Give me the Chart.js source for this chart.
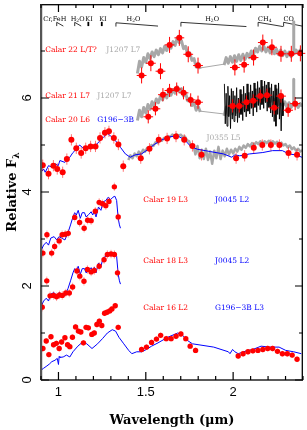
<!DOCTYPE html>
<html>
<head>
<meta charset="utf-8">
<script src="https://cdn.jsdelivr.net/npm/chart.js@4.4.1/dist/chart.umd.min.js"></script>
<style>
  html, body { margin: 0; padding: 0; background: #fff; }
</style>
</head>
<body>
<canvas id="chart" width="307" height="430"></canvas>
<script>
// Axis ticks (wavelength in µm, relative flux)
const xMajorTicks = [1, 1.5, 2];
const xMinorTicks = [0.9, 1.1, 1.2, 1.3, 1.4, 1.6, 1.7, 1.8, 1.9, 2.1, 2.2, 2.3, 2.4];
const yMajorTicks = [0, 2, 4, 6];
const yMinorTicks = [1, 3, 5, 7];

// --- Calar 22 (L/T?) vs J1207 L7 ---
const lamCalar22 = [1.476, 1.529, 1.584, 1.636, 1.692, 1.743, 1.799, 2.010, 2.063, 2.117, 2.170, 2.222, 2.274, 2.333, 2.385];
const fluxCalar22 = [6.48, 6.74, 6.57, 7.13, 7.28, 6.93, 6.69, 6.65, 6.71, 6.86, 7.18, 7.08, 6.94, 6.94, 6.95];

// J1207 grids: H-band piece and K-band piece
const lamJ1207H = [1.452, 1.464, 1.476, 1.488, 1.500, 1.512, 1.524, 1.536, 1.548, 1.560, 1.572, 1.584, 1.596, 1.608, 1.620, 1.632,
  1.644, 1.656, 1.668, 1.680, 1.692, 1.704, 1.716, 1.728, 1.740, 1.752, 1.764, 1.776, 1.788, 1.800, 1.812];
const lamJ1207K = [1.948, 1.960, 1.972, 1.984, 1.996, 2.008, 2.020, 2.032, 2.044, 2.056, 2.068, 2.080, 2.092, 2.104, 2.116, 2.128,
  2.140, 2.152, 2.164, 2.176, 2.188, 2.200, 2.212, 2.224, 2.236, 2.248, 2.260, 2.272, 2.284, 2.296, 2.308, 2.320, 2.332,
  2.344, 2.346, 2.348, 2.360, 2.372, 2.384, 2.396];
const fluxJ1207H22 = [6.52, 6.78, 6.66, 6.86, 6.76, 6.94, 6.84, 6.98, 6.88, 7.02, 6.92, 7.05, 6.96, 7.10, 7.01, 7.15,
  7.06, 7.20, 7.12, 7.28, 7.18, 7.22, 7.05, 7.10, 6.92, 6.96, 6.80, 6.84, 6.66, 6.74, 6.62];
const fluxJ1207K22 = [6.70, 6.86, 6.74, 6.88, 6.76, 6.90, 6.78, 6.92, 6.80, 6.93, 6.82, 6.95, 6.86, 7.00, 6.92, 7.06,
  6.98, 7.10, 7.00, 7.10, 6.98, 7.08, 6.96, 7.06, 6.94, 7.04, 6.92, 7.02, 6.90, 7.00, 6.88, 6.98, 6.88,
  6.96, 7.62, 6.94, 7.02, 6.94, 7.02, 6.96];

// --- Calar 21 (L7) vs J1207 L7, with its own K-band spectrum ---
const lamCalar21 = [1.514, 1.555, 1.598, 1.636, 1.677, 1.716, 1.757, 1.799, 1.997, 2.035, 2.076, 2.115, 2.155, 2.194, 2.235, 2.274, 2.315, 2.355];
const fluxCalar21 = [5.60, 5.77, 6.07, 6.16, 6.19, 6.11, 5.96, 5.91, 5.83, 5.83, 5.91, 5.94, 6.04, 6.06, 5.79, 6.04, 5.74, 5.88];
const fluxJ1207H21 = [5.52, 5.74, 5.60, 5.80, 5.68, 5.86, 5.76, 5.92, 5.82, 5.98, 5.90, 6.04, 5.96, 6.10, 6.00, 6.14,
  6.06, 6.18, 6.10, 6.24, 6.14, 6.20, 6.04, 6.10, 5.94, 6.00, 5.84, 5.90, 5.74, 5.82, 5.70];
const fluxJ1207K21 = [5.62, 5.80, 5.64, 5.82, 5.66, 5.84, 5.70, 5.86, 5.72, 5.88, 5.74, 5.90, 5.78, 5.94, 5.82, 5.98,
  5.88, 6.02, 5.92, 6.04, 5.94, 6.04, 5.92, 6.02, 5.90, 6.00, 5.86, 5.98, 5.84, 5.92, 5.80, 5.90, 5.80,
  5.88, 6.40, 5.86, 5.90, 5.80, 5.88, 5.82];
const lamCalar21K = [1.950, 1.955, 1.960, 1.965, 1.970, 1.975, 1.980, 1.985, 1.990, 1.995,
  2.000, 2.005, 2.010, 2.015, 2.020, 2.025, 2.030, 2.035, 2.040, 2.045,
  2.050, 2.055, 2.060, 2.065, 2.070, 2.075, 2.080, 2.085, 2.090, 2.095,
  2.100, 2.105, 2.110, 2.115, 2.120, 2.125, 2.130, 2.135, 2.140, 2.145,
  2.150, 2.155, 2.160, 2.165, 2.170, 2.175, 2.180, 2.185, 2.190, 2.195,
  2.200, 2.205, 2.210, 2.215, 2.220, 2.225, 2.230, 2.235, 2.240, 2.245,
  2.250, 2.255, 2.260, 2.265, 2.270, 2.275, 2.280, 2.285, 2.290];
const fluxCalar21K = [6.30, 5.45, 6.10, 5.40, 6.25, 5.60, 6.05, 5.35, 6.20, 5.55,
  6.15, 5.50, 6.05, 5.62, 6.22, 5.48, 6.00, 5.58, 6.18, 5.65,
  6.08, 5.52, 6.25, 5.70, 6.10, 5.60, 6.30, 5.72, 6.12, 5.66,
  6.28, 5.78, 6.15, 5.62, 6.32, 5.80, 6.20, 5.70, 6.35, 5.84,
  6.22, 5.75, 6.38, 5.86, 6.25, 5.78, 6.36, 5.90, 6.28, 5.72,
  6.34, 5.80, 6.22, 5.68, 6.30, 5.60, 6.15, 5.50, 6.28, 5.40,
  6.20, 5.65, 6.32, 5.55, 6.10, 5.30, 6.05, 5.62, 5.90];

// --- Calar 20 (L6) vs G196-3B and J0355 L5 ---
const lamCalar20 = [0.910, 0.943, 0.971, 0.993, 1.024, 1.048, 1.074, 1.102, 1.130, 1.156, 1.184, 1.212, 1.238, 1.266, 1.289, 1.317, 1.343, 1.371,
  1.471, 1.521, 1.574, 1.622, 1.673, 1.720, 1.767, 1.819, 2.017, 2.066, 2.118, 2.167, 2.216, 2.265, 2.317, 2.366];
const fluxCalar20 = [4.57, 4.39, 4.56, 4.49, 4.42, 4.70, 5.11, 4.93, 4.83, 4.93, 4.97, 4.97, 5.15, 5.26, 5.29, 5.15, 5.01, 4.55,
  4.72, 4.92, 5.11, 5.14, 5.18, 5.11, 4.98, 4.79, 4.72, 4.77, 4.94, 5.00, 5.00, 5.00, 4.83, 4.79];
const lamG196a = [0.900, 0.915, 0.924, 0.943, 0.962, 0.980, 0.999, 1.008, 1.037, 1.065, 1.083, 1.102, 1.121, 1.136, 1.158, 1.177,
  1.205, 1.233, 1.261, 1.280, 1.299, 1.327, 1.355, 1.383, 1.411, 1.439, 1.476, 1.514, 1.552, 1.598, 1.645, 1.683,
  1.720, 1.757, 1.795, 1.870, 1.945, 1.992, 2.010, 2.038, 2.094, 2.170, 2.226, 2.282, 2.319, 2.357, 2.394];
const fluxG196a = [4.42, 4.49, 4.42, 4.56, 4.53, 4.60, 4.56, 4.67, 4.63, 4.74, 4.84, 4.91, 5.00, 4.95, 4.91, 4.95,
  4.97, 5.07, 5.18, 5.25, 5.19, 5.09, 4.95, 4.81, 4.74, 4.79, 4.81, 4.91, 5.02, 5.12, 5.18, 5.19,
  5.12, 4.97, 4.91, 4.86, 4.81, 4.74, 4.79, 4.77, 4.81, 4.84, 4.88, 4.88, 4.81, 4.79, 4.74];
const lamJ0355 = [1.400, 1.412, 1.424, 1.436, 1.448, 1.460, 1.472, 1.484, 1.496, 1.508,
  1.520, 1.532, 1.544, 1.556, 1.568, 1.580, 1.592, 1.604, 1.616, 1.628,
  1.640, 1.652, 1.664, 1.676, 1.688, 1.700, 1.712, 1.724, 1.736, 1.748,
  1.760, 1.772, 1.784, 1.796, 1.808, 1.820, 1.832, 1.844, 1.856, 1.868,
  1.880, 1.892, 1.904, 1.916, 1.928, 1.940, 1.952, 1.964, 1.976, 1.988,
  2.000, 2.012, 2.024, 2.036, 2.048, 2.060, 2.072, 2.084, 2.096, 2.108,
  2.120, 2.132, 2.144, 2.156, 2.168, 2.180, 2.192, 2.204, 2.216, 2.228,
  2.240, 2.252, 2.264, 2.276, 2.288, 2.300, 2.312, 2.324, 2.336, 2.348,
  2.360, 2.372, 2.384, 2.396];
const fluxJ0355 = [4.68, 4.78, 4.72, 4.82, 4.76, 4.86, 4.80, 4.90, 4.86, 4.94,
  4.92, 5.00, 4.98, 5.06, 5.04, 5.11, 5.09, 5.15, 5.13, 5.19,
  5.17, 5.22, 5.19, 5.23, 5.20, 5.22, 5.17, 5.18, 5.10, 5.08,
  4.96, 5.00, 4.80, 4.98, 4.72, 4.90, 4.70, 4.92, 4.68, 4.86,
  4.60, 4.88, 4.72, 4.96, 4.70, 4.88, 4.76, 4.92, 4.80, 4.90,
  4.82, 4.92, 4.86, 4.96, 4.90, 4.99, 4.94, 5.02, 4.97, 5.04,
  5.00, 5.06, 5.02, 5.08, 5.03, 5.08, 5.04, 5.09, 5.04, 5.08,
  5.03, 5.07, 5.01, 5.05, 4.99, 5.02, 4.95, 4.99, 4.91, 4.95,
  4.88, 4.92, 4.86, 4.89];

// --- Calar 19 (L3) and Calar 18 (L3) vs J0045 L2 ---
const lamJ0045 = [0.900, 0.915, 0.930, 0.943, 0.956, 0.975, 0.990, 1.003, 1.018, 1.037, 1.055, 1.069, 1.083, 1.093, 1.102, 1.113,
  1.125, 1.136, 1.149, 1.158, 1.173, 1.187, 1.196, 1.205, 1.215, 1.229, 1.243, 1.256, 1.271, 1.285, 1.299, 1.312,
  1.323, 1.333, 1.342, 1.349, 1.355];
const fluxJ0045a = [2.75, 2.87, 2.93, 2.87, 3.02, 3.05, 2.98, 3.05, 3.02, 2.98, 3.14, 3.30, 3.47, 3.56, 3.51, 3.61,
  3.44, 3.56, 3.56, 3.47, 3.52, 3.58, 3.51, 3.59, 3.47, 3.68, 3.61, 3.79, 3.82, 3.89, 3.84, 3.89,
  3.91, 3.82, 3.44, 3.30, 3.23];
const fluxJ0045b = [1.56, 1.68, 1.74, 1.68, 1.83, 1.86, 1.79, 1.86, 1.83, 1.79, 1.95, 2.11, 2.28, 2.37, 2.32, 2.42,
  2.25, 2.37, 2.37, 2.28, 2.33, 2.39, 2.32, 2.40, 2.28, 2.49, 2.42, 2.60, 2.63, 2.70, 2.65, 2.70,
  2.72, 2.63, 2.25, 2.11, 2.04];
const lamCalar19 = [0.911, 0.934, 0.961, 0.978, 1.004, 1.021, 1.039, 1.056, 1.093, 1.121, 1.147, 1.167, 1.187, 1.211, 1.233, 1.252, 1.271, 1.289, 1.320, 1.342];
const fluxCalar19 = [2.70, 3.09, 2.70, 2.84, 2.96, 3.09, 3.10, 3.12, 3.46, 3.35, 3.23, 3.40, 3.39, 3.59, 3.78, 3.75, 3.71, 3.80, 4.11, 3.47];
const lamCalar18 = [0.907, 0.933, 0.952, 0.972, 0.989, 1.006, 1.022, 1.042, 1.062, 1.081, 1.106, 1.122, 1.146, 1.166, 1.187, 1.205, 1.233, 1.261, 1.280, 1.301, 1.320, 1.338];
const fluxCalar18 = [1.55, 2.11, 1.79, 1.80, 1.77, 1.81, 1.80, 1.85, 1.85, 1.98, 2.32, 2.21, 2.10, 2.35, 2.30, 2.33, 2.42, 2.56, 2.67, 2.68, 2.67, 2.28];

// --- Calar 16 (L2) vs G196-3B L3 ---
const lamCalar16 = [0.911, 0.930, 0.945, 0.957, 0.972, 0.988, 1.004, 1.018, 1.037, 1.052, 1.065, 1.080, 1.098, 1.114, 1.128, 1.143,
  1.158, 1.171, 1.191, 1.205, 1.220, 1.234, 1.248, 1.264, 1.278, 1.293, 1.306, 1.325, 1.342,
  1.476, 1.504, 1.533, 1.561, 1.585, 1.617, 1.645, 1.673, 1.701, 1.729, 1.754, 1.785,
  2.029, 2.057, 2.085, 2.113, 2.142, 2.170, 2.198, 2.226, 2.254, 2.282, 2.310, 2.338, 2.366];
const fluxCalar16 = [0.67, 0.83, 0.54, 0.92, 0.75, 0.78, 0.67, 0.81, 0.90, 0.75, 0.71, 0.91, 1.13, 1.04, 1.02, 0.79,
  1.12, 1.11, 0.97, 1.00, 1.18, 1.25, 1.16, 1.42, 1.44, 1.47, 1.51, 1.58, 1.12,
  0.65, 0.70, 0.80, 0.87, 0.95, 0.88, 0.88, 0.93, 0.98, 0.88, 0.72, 0.63,
  0.51, 0.56, 0.60, 0.62, 0.63, 0.65, 0.67, 0.67, 0.61, 0.56, 0.56, 0.53, 0.44];
const lamG196b = [0.900, 0.915, 0.934, 0.948, 0.962, 0.980, 0.993, 1.000, 1.004, 1.008, 1.027, 1.046, 1.065, 1.083, 1.111, 1.139,
  1.162, 1.192, 1.224, 1.252, 1.280, 1.308, 1.327, 1.346, 1.374, 1.402, 1.420, 1.448, 1.476, 1.504, 1.533, 1.570,
  1.626, 1.683, 1.711, 1.739, 1.767, 1.889, 1.973, 1.982, 1.997, 2.010, 2.029, 2.076, 2.113, 2.160, 2.207, 2.263,
  2.301, 2.347, 2.390];
const fluxG196b = [0.21, 0.25, 0.30, 0.34, 0.39, 0.42, 0.46, 0.33, 0.50, 0.48, 0.49, 0.53, 0.49, 0.60, 0.72, 0.81,
  0.77, 0.67, 0.77, 0.88, 1.00, 1.07, 1.04, 0.91, 0.77, 0.63, 0.56, 0.60, 0.60, 0.65, 0.72, 0.79,
  0.91, 1.00, 0.95, 0.84, 0.77, 0.70, 0.60, 0.56, 0.65, 0.60, 0.56, 0.62, 0.65, 0.72, 0.70, 0.70,
  0.63, 0.60, 0.56];

// Feature markers along the top (wavelength, flux)
const markCrFeH = [[0.990, 7.53], [0.990, 7.61], [1.028, 7.53]];
const markH2Oa = [[1.093, 7.53], [1.093, 7.61], [1.130, 7.53]];
const markKIa = [[1.171, 7.53], [1.171, 7.62]];
const markKIb = [[1.248, 7.53], [1.248, 7.62]];
const markH2Ob = [[1.329, 7.52], [1.329, 7.60], [1.570, 7.53]];
const markH2Oc = [[1.701, 7.52], [1.701, 7.61], [2.076, 7.52]];
const markCH4 = [[2.143, 7.52], [2.143, 7.61], [2.285, 7.52]];
const markCO = [[2.289, 7.52], [2.289, 7.61], [2.395, 7.53]];

const RED = '#ff0000', BLUE = '#0000ff', GRAY = '#a8a8a8';
const LABEL_FONT = '"DejaVu Serif", serif';

const toXY = (lam, flux) => lam.map((l, i) => ({ x: l, y: flux[i] }));

function spectrum(lam, flux, color, width, order) {
  return { data: toXY(lam, flux), showLine: true, borderColor: color, borderWidth: width,
    pointRadius: 0, order, borderJoinStyle: 'round' };
}
function connector(a, b, color, order) {
  return { data: [a, b].map(p => ({ x: p[0], y: p[1] })), showLine: true, borderColor: color,
    borderWidth: 1, pointRadius: 0, order };
}
function mark(pts, width) {
  return { data: pts.map(p => ({ x: p[0], y: p[1] })), showLine: true, borderColor: '#000',
    borderWidth: width || 0.8, pointRadius: 0, order: 5 };
}
function points(lam, flux, radius, errX, errY, errColor) {
  return { data: toXY(lam, flux), showLine: false, pointRadius: radius, pointBackgroundColor: RED,
    pointBorderWidth: 0, order: 0, errX, errY, errColor };
}

const datasets = [
  // top: Calar 22
  spectrum(lamJ1207H, fluxJ1207H22, GRAY, 3, 4),
  spectrum(lamJ1207K, fluxJ1207K22, GRAY, 3, 4),
  connector([1.812, 6.64], [1.948, 6.72], GRAY, 4),
  points(lamCalar22, fluxCalar22, 3, 0.028, 0.17, RED),
  // Calar 21
  spectrum(lamJ1207H, fluxJ1207H21, GRAY, 3, 4),
  spectrum(lamJ1207K, fluxJ1207K21, GRAY, 3, 4),
  connector([1.812, 5.72], [1.948, 5.66], GRAY, 4),
  spectrum(lamCalar21K, fluxCalar21K, '#000', 0.9, 2),
  points(lamCalar21, fluxCalar21, 3, 0.028, 0.14, RED),
  // Calar 20
  spectrum(lamJ0355, fluxJ0355, GRAY, 2.5, 4),
  spectrum(lamG196a, fluxG196a, BLUE, 1, 3),
  points(lamCalar20, fluxCalar20, 3, 0.015, 0.12, 'rgba(255,0,0,0.55)'),
  // Calar 19 / 18
  spectrum(lamJ0045, fluxJ0045a, BLUE, 1, 3),
  points(lamCalar19, fluxCalar19, 2.7, 0, 0.09, 'rgba(255,60,60,0.45)'),
  spectrum(lamJ0045, fluxJ0045b, BLUE, 1, 3),
  points(lamCalar18, fluxCalar18, 2.7, 0, 0.09, 'rgba(255,60,60,0.45)'),
  // Calar 16
  spectrum(lamG196b, fluxG196b, BLUE, 1, 3),
  points(lamCalar16, fluxCalar16, 2.7, 0, 0.06, 'rgba(255,60,60,0.45)'),
  // feature markers
  mark(markCrFeH), mark(markH2Oa), mark(markKIa, 1.8), mark(markKIb, 1.8),
  mark(markH2Ob), mark(markH2Oc), mark(markCH4), mark(markCO),
];

// Text placed in data coordinates
const panelLabels = [
  { text: 'Calar 22 L/T?', color: RED, x: 0.924, y: 7.03 },
  { text: 'J1207 L7', color: GRAY, x: 1.273, y: 7.03 },
  { text: 'Calar 21 L7', color: RED, x: 0.924, y: 6.04 },
  { text: 'J1207 L7', color: GRAY, x: 1.222, y: 6.04 },
  { text: 'Calar 20 L6', color: RED, x: 0.924, y: 5.54 },
  { text: 'G196\u22123B', color: BLUE, x: 1.222, y: 5.54 },
  { text: 'J0355 L5', color: GRAY, x: 1.847, y: 5.14 },
  { text: 'Calar 19 L3', color: RED, x: 1.486, y: 3.83 },
  { text: 'J0045 L2', color: BLUE, x: 1.896, y: 3.83 },
  { text: 'Calar 18 L3', color: RED, x: 1.486, y: 2.53 },
  { text: 'J0045 L2', color: BLUE, x: 1.896, y: 2.53 },
  { text: 'Calar 16 L2', color: RED, x: 1.486, y: 1.54 },
  { text: 'G196\u22123B L3', color: BLUE, x: 1.896, y: 1.54 },
];
// [main, subscript, rest]
const featureLabels = [
  { parts: ['Cr,FeH', '', ''], x: 0.913 },
  { parts: ['H', '2', 'O'], x: 1.070 },
  { parts: ['KI', '', ''], x: 1.154 },
  { parts: ['KI', '', ''], x: 1.233 },
  { parts: ['H', '2', 'O'], x: 1.390 },
  { parts: ['H', '2', 'O'], x: 1.840 },
  { parts: ['CH', '4', ''], x: 2.143 },
  { parts: ['CO', '', ''], x: 2.289 },
];
const featureY = 7.68;

const errorBars = {
  id: 'errorBars',
  beforeDatasetDraw(chart, args) {
    const ds = chart.data.datasets[args.index];
    if (!ds.errY) return;
    const { ctx, scales: { x, y } } = chart;
    ctx.save();
    ctx.strokeStyle = ds.errColor;
    ctx.lineWidth = 1;
    ds.data.forEach(p => {
      const px = x.getPixelForValue(p.x), py = y.getPixelForValue(p.y);
      ctx.beginPath();
      ctx.moveTo(px, y.getPixelForValue(p.y - ds.errY));
      ctx.lineTo(px, y.getPixelForValue(p.y + ds.errY));
      if (ds.errX) {
        ctx.moveTo(x.getPixelForValue(p.x - ds.errX), py);
        ctx.lineTo(x.getPixelForValue(p.x + ds.errX), py);
      }
      ctx.stroke();
    });
    ctx.restore();
  }
};

const frameAndText = {
  id: 'frameAndText',
  afterDraw(chart) {
    const { ctx, chartArea: a, scales: { x, y } } = chart;
    ctx.save();
    // frame
    ctx.strokeStyle = '#000';
    ctx.lineWidth = 1.3;
    ctx.strokeRect(a.left + 0.5, a.top + 0.7, a.right - a.left - 1.2, a.bottom - a.top - 0.7);
    ctx.strokeStyle = '#555';
    ctx.lineWidth = 2;
    ctx.beginPath(); ctx.moveTo(a.left, a.top); ctx.lineTo(a.left, a.bottom); ctx.stroke();
    // inward ticks on all four sides
    ctx.strokeStyle = '#000';
    ctx.lineWidth = 1.2;
    const xt = (vals, len) => vals.forEach(v => {
      const px = x.getPixelForValue(v);
      ctx.beginPath();
      ctx.moveTo(px, a.bottom); ctx.lineTo(px, a.bottom - len);
      ctx.moveTo(px, a.top); ctx.lineTo(px, a.top + len);
      ctx.stroke();
    });
    const yt = (vals, len) => vals.forEach(v => {
      const py = y.getPixelForValue(v);
      ctx.beginPath();
      ctx.moveTo(a.left, py); ctx.lineTo(a.left + len, py);
      ctx.moveTo(a.right, py); ctx.lineTo(a.right - len, py);
      ctx.stroke();
    });
    xt(xMajorTicks, 8); xt(xMinorTicks, 4);
    yt(yMajorTicks, 8); yt(yMinorTicks, 4);

    // rotated y tick labels
    ctx.fillStyle = '#000';
    ctx.font = '13px "Liberation Sans", sans-serif';
    ctx.textAlign = 'center';
    ctx.textBaseline = 'middle';
    yMajorTicks.forEach(v => {
      ctx.save();
      ctx.translate(27, y.getPixelForValue(v));
      ctx.rotate(-Math.PI / 2);
      ctx.fillText(String(v), 0, 0);
      ctx.restore();
    });

    // y axis title with subscript lambda
    ctx.save();
    ctx.translate(13, (a.top + a.bottom) / 2);
    ctx.rotate(-Math.PI / 2);
    ctx.font = 'bold 13px ' + LABEL_FONT;
    const w1 = ctx.measureText('Relative F').width;
    ctx.font = 'bold 9px ' + LABEL_FONT;
    const w2 = ctx.measureText('\u03bb').width;
    ctx.textAlign = 'left';
    ctx.font = 'bold 13px ' + LABEL_FONT;
    ctx.fillText('Relative F', -(w1 + w2) / 2, 0);
    ctx.font = 'bold 9px ' + LABEL_FONT;
    ctx.fillText('\u03bb', -(w1 + w2) / 2 + w1, 4);
    ctx.restore();

    // panel labels
    ctx.textAlign = 'left';
    ctx.textBaseline = 'middle';
    ctx.font = '7.5px ' + LABEL_FONT;
    panelLabels.forEach(l => {
      ctx.fillStyle = l.color;
      ctx.fillText(l.text, x.getPixelForValue(l.x), y.getPixelForValue(l.y));
    });

    // feature labels
    ctx.fillStyle = '#000';
    featureLabels.forEach(f => {
      let px = x.getPixelForValue(f.x);
      const py = y.getPixelForValue(featureY);
      ctx.font = '6.5px ' + LABEL_FONT;
      ctx.fillText(f.parts[0], px, py);
      px += ctx.measureText(f.parts[0]).width;
      if (f.parts[1]) {
        ctx.font = '4.5px ' + LABEL_FONT;
        ctx.fillText(f.parts[1], px, py + 2);
        px += ctx.measureText(f.parts[1]).width;
      }
      if (f.parts[2]) {
        ctx.font = '6.5px ' + LABEL_FONT;
        ctx.fillText(f.parts[2], px, py);
      }
    });
    ctx.restore();
  }
};

new Chart(document.getElementById('chart'), {
  type: 'scatter',
  data: { datasets },
  options: {
    responsive: false,
    animation: false,
    devicePixelRatio: 1,
    layout: { padding: 0 },
    plugins: { legend: { display: false }, tooltip: { enabled: false } },
    elements: { line: { tension: 0 } },
    scales: {
      x: {
        type: 'linear', min: 0.9, max: 2.4,
        afterBuildTicks: s => { s.ticks = xMajorTicks.map(v => ({ value: v })); },
        afterFit: s => { s.height = 50; },
        grid: { display: false, drawTicks: false },
        border: { display: false },
        ticks: { color: '#000', padding: 5, font: { family: '"Liberation Sans", sans-serif', size: 13 },
          callback: v => String(v), maxRotation: 0 },
        title: { display: true, text: 'Wavelength (\u03bcm)', color: '#000',
          font: { family: LABEL_FONT, size: 13, weight: 'bold' }, padding: { top: 0, bottom: 2 } }
      },
      y: {
        type: 'linear', min: 0, max: 8,
        afterFit: s => { s.width = 41; },
        grid: { display: false, drawTicks: false },
        border: { display: false },
        ticks: { display: false }
      }
    }
  },
  plugins: [errorBars, frameAndText]
});
</script>
</body>
</html>
